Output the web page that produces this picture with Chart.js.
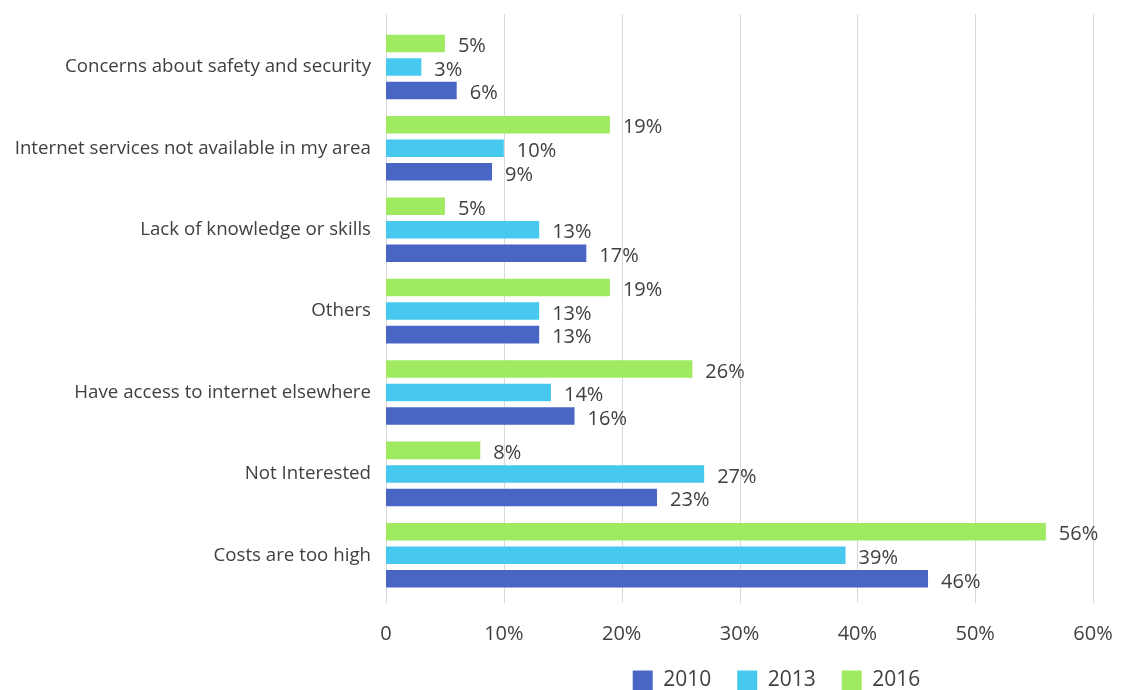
<!DOCTYPE html>
<html>
<head>
<meta charset="utf-8">
<title>Reasons for not having internet at home</title>
<script src="https://cdn.jsdelivr.net/npm/chart.js@4/dist/chart.umd.min.js"></script>
<style>
  html, body { margin: 0; padding: 0; background: #fff; }
  #wrap { width: 1124px; height: 690px; position: relative; }
</style>
</head>
<body>
<div id="wrap"><canvas id="reasons-chart"></canvas></div>
<script>
// categories top to bottom
const categories = [
  'Concerns about safety and security',
  'Internet services not available in my area',
  'Lack of knowledge or skills',
  'Others',
  'Have access to internet elsewhere',
  'Not Interested',
  'Costs are too high'
];

// percent of households, per survey year
const values2010 = [6, 9, 17, 13, 16, 23, 46];
const values2013 = [3, 10, 13, 13, 14, 27, 39];
const values2016 = [5, 19, 5, 19, 26, 8, 56];

const xTicks = [0, 10, 20, 30, 40, 50, 60];

const textColor = '#404040';
const fontFamily = '"Open Sans", "DejaVu Sans", sans-serif';

// vertical grid lines, a bit taller than the plot area
const gridPlugin = {
  id: 'tallGrid',
  beforeDatasetsDraw(chart) {
    const {ctx, chartArea, scales: {x}} = chart;
    ctx.save();
    ctx.strokeStyle = '#d9d9d9';
    ctx.lineWidth = 1;
    x.ticks.forEach(function(t) {
      const px = Math.round(x.getPixelForValue(t.value)) + 0.5;
      ctx.beginPath();
      ctx.moveTo(px, chartArea.top - 12);
      ctx.lineTo(px, chartArea.bottom + 7);
      ctx.stroke();
    });
    ctx.restore();
  }
};

// value labels at the end of every bar
const barLabels = {
  id: 'barLabels',
  afterDatasetsDraw(chart) {
    const ctx = chart.ctx;
    ctx.save();
    ctx.fillStyle = textColor;
    ctx.font = '20px ' + fontFamily;
    ctx.textAlign = 'left';
    ctx.textBaseline = 'middle';
    chart.data.datasets.forEach(function(ds, i) {
      chart.getDatasetMeta(i).data.forEach(function(bar, j) {
        ctx.fillText(ds.data[j] + '%', bar.x + 13, bar.y + 3);
      });
    });
    ctx.restore();
  }
};

// legend sits under the plot area rather than the whole canvas
const legendShift = {
  id: 'legendShift',
  afterLayout(chart) {
    chart.legend.left += 230;
    chart.legend.right += 230;
  }
};

new Chart(document.getElementById('reasons-chart'), {
  type: 'bar',
  data: {
    labels: categories,
    // drawn top to bottom inside each group: 2016, 2013, 2010
    datasets: [
      { label: '2016', data: values2016, backgroundColor: '#9fea60' },
      { label: '2013', data: values2013, backgroundColor: '#47c9ef' },
      { label: '2010', data: values2010, backgroundColor: '#4a66c4' }
    ]
  },
  options: {
    indexAxis: 'y',
    responsive: true,
    maintainAspectRatio: false,
    animation: false,
    categoryPercentage: 0.867,
    barPercentage: 0.745,
    layout: { padding: { top: 25, right: 31, left: 0, bottom: -11 } },
    scales: {
      x: {
        min: 0,
        max: 60,
        afterBuildTicks(scale) {
          scale.ticks = xTicks.map(v => ({ value: v }));
        },
        afterFit(scale) { scale.height = 48; },
        // tick marks hidden, their length only spaces the labels
        grid: { display: false, drawTicks: true, tickLength: 26 },
        border: { display: false },
        ticks: {
          padding: 0,
          color: textColor,
          font: { family: fontFamily, size: 20 },
          callback: v => v === 0 ? '0' : v + '%'
        }
      },
      y: {
        afterFit(scale) { scale.width = 386; },
        grid: { display: false, drawTicks: false },
        border: { display: false },
        ticks: {
          padding: 15,
          color: textColor,
          font: { family: fontFamily, size: 18.7 }
        }
      }
    },
    plugins: {
      legend: {
        position: 'bottom',
        reverse: true,
        labels: {
          color: textColor,
          font: { family: fontFamily, size: 21 },
          boxWidth: 20,
          boxHeight: 20,
          padding: 26
        }
      },
      tooltip: { enabled: false }
    }
  },
  plugins: [gridPlugin, barLabels, legendShift]
});
</script>
</body>
</html>
